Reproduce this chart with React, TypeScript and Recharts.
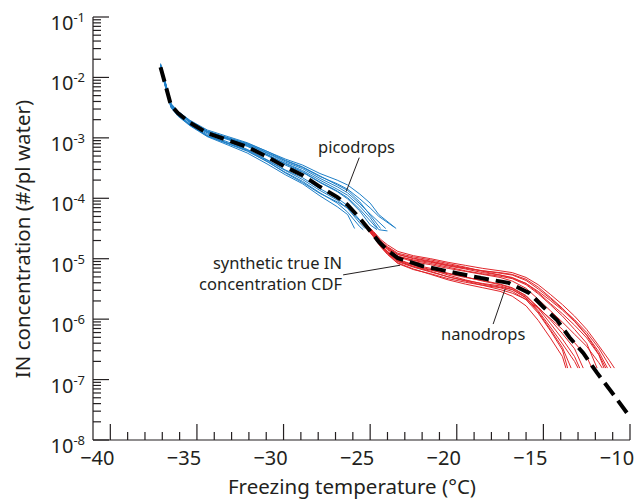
import React from "react";
import { LineChart, Line, XAxis, YAxis, ReferenceLine } from "recharts";

const cdfTemps = [-37.1, -36.5, -36.1, -35.4, -34.4, -33.2, -32.1, -30.9, -29.9, -28.9, -27.9, -26.9, -26.3, -25.6, -25.0, -24.5, -24.0, -23.4, -22.0, -20.0, -18.6, -17.0, -15.8, -15.0, -14.2, -13.5, -12.7, -11.9, -11.0, -10.0];
const cdfLogs = [-1.83, -2.46, -2.59, -2.75, -2.92, -3.04, -3.15, -3.32, -3.48, -3.62, -3.81, -3.98, -4.11, -4.33, -4.54, -4.72, -4.86, -4.99, -5.12, -5.24, -5.32, -5.4, -5.57, -5.8, -6.02, -6.3, -6.56, -6.89, -7.23, -7.62];

const picoTemps = [-37.1, -36.5, -36.1, -35.4, -34.4, -33.2, -32.1, -30.9, -29.9, -28.9, -27.9, -26.9, -26.3, -25.6, -25.0, -24.5];
const picoRuns = [
  [-1.78, -2.43, -2.56, -2.72, -2.89, -3.01, -3.12, -3.28, -3.43, -3.56, -3.73, -3.88, -3.99, -4.18],
  [-1.85, -2.49, -2.63, -2.79, -2.97, -3.1, -3.22, -3.4, -3.57, -3.72, -3.91, -4.08, -4.23, -4.47],
  [-1.8, -2.44, -2.57, -2.73, -2.89, -3.0, -3.1, -3.25, -3.38, -3.49, -3.64, -3.76, -3.85, -4.01, -4.16, -4.3],
  [-1.83, -2.47, -2.61, -2.77, -2.94, -3.07, -3.19, -3.37, -3.53, -3.66, -3.84, -4.0, -4.12, -4.36],
  [-1.77, -2.44, -2.57, -2.73, -2.9, -3.02, -3.11, -3.26, -3.4, -3.51, -3.67, -3.81, -3.91, -4.09, -4.26],
  [-1.86, -2.5, -2.64, -2.8, -2.98, -3.12, -3.25, -3.44, -3.61, -3.76, -3.96, -4.14, -4.27],
  [-1.83, -2.46, -2.59, -2.75, -2.92, -3.03, -3.14, -3.3, -3.45, -3.57, -3.74, -3.89, -4.01, -4.21, -4.44],
  [-1.79, -2.44, -2.57, -2.73, -2.89, -3.0, -3.09, -3.23, -3.35, -3.45, -3.59, -3.7, -3.78, -3.93, -4.08, -4.27],
  [-1.84, -2.48, -2.62, -2.78, -2.96, -3.09, -3.2, -3.38, -3.54, -3.69, -3.87, -4.03, -4.17, -4.41],
  [-1.81, -2.45, -2.58, -2.74, -2.91, -3.02, -3.13, -3.29, -3.42, -3.54, -3.7, -3.85, -3.95, -4.13, -4.32, -4.52],
  [-1.8, -2.44, -2.56, -2.71, -2.87, -2.98, -3.08, -3.23, -3.37, -3.48, -3.63, -3.78, -3.87, -4.06, -4.28],
  [-1.85, -2.48, -2.62, -2.79, -2.97, -3.09, -3.21, -3.4, -3.58, -3.74, -3.92, -4.06, -4.16, -4.37],
];
const picoEnds = [[-24.6, -4.5], [-25.4, -4.52], [-23.6, -4.48], [-25.1, -4.52], [-24.1, -4.5], [-25.9, -4.5], [-24.6, -4.52], [-23.5, -4.5], [-25.3, -4.5], [-24.0, -4.54], [-24.4, -4.5], [-25.0, -4.5]];

const nanoTemps = [-25.2, -24.8, -24.4, -24.0, -23.4, -22.5, -21.5, -20.5, -19.5, -18.5, -17.5, -16.8, -16.0, -15.3, -14.6, -13.9, -13.2, -12.5, -11.8, -11.2];
const nanoRuns = [
  [-4.45, -4.57, -4.71, -4.81, -4.93, -4.99, -5.04, -5.1, -5.15, -5.2, -5.23, -5.26, -5.34, -5.47, -5.64, -5.82, -6.03, -6.26, -6.54],
  [-4.49, -4.63, -4.8, -4.93, -5.08, -5.18, -5.25, -5.33, -5.39, -5.44, -5.48, -5.54, -5.68, -5.9, -6.19, -6.51],
  [-4.47, -4.59, -4.73, -4.83, -4.96, -5.03, -5.08, -5.14, -5.2, -5.25, -5.29, -5.33, -5.43, -5.58, -5.76, -5.95, -6.17, -6.4],
  [-4.48, -4.62, -4.78, -4.9, -5.04, -5.13, -5.19, -5.25, -5.31, -5.36, -5.42, -5.48, -5.61, -5.82, -6.07, -6.33, -6.62],
  [-4.44, -4.55, -4.68, -4.77, -4.88, -4.95, -5.0, -5.06, -5.11, -5.16, -5.2, -5.23, -5.31, -5.43, -5.59, -5.76, -5.95, -6.17, -6.44, -6.68],
  [-4.5, -4.64, -4.8, -4.92, -5.07, -5.17, -5.26, -5.35, -5.42, -5.48, -5.54, -5.62, -5.78, -6.02, -6.31, -6.62],
  [-4.46, -4.58, -4.73, -4.84, -4.96, -5.02, -5.06, -5.12, -5.17, -5.23, -5.27, -5.31, -5.41, -5.56, -5.74, -5.91, -6.1, -6.31, -6.59],
  [-4.47, -4.61, -4.76, -4.88, -5.01, -5.1, -5.16, -5.24, -5.3, -5.37, -5.43, -5.49, -5.62, -5.8, -6.01, -6.24, -6.49],
  [-4.45, -4.56, -4.7, -4.8, -4.91, -4.97, -5.02, -5.08, -5.14, -5.21, -5.27, -5.32, -5.41, -5.54, -5.69, -5.85, -6.04, -6.27, -6.58],
  [-4.49, -4.62, -4.77, -4.89, -5.03, -5.13, -5.21, -5.3, -5.37, -5.44, -5.51, -5.57, -5.67, -5.82, -5.99, -6.17, -6.39, -6.62],
  [-4.46, -4.59, -4.74, -4.85, -4.97, -5.05, -5.1, -5.16, -5.21, -5.26, -5.31, -5.37, -5.49, -5.67, -5.86, -6.05, -6.25, -6.45, -6.72],
  [-4.47, -4.6, -4.76, -4.88, -5.02, -5.11, -5.18, -5.27, -5.35, -5.42, -5.47, -5.51, -5.64, -5.86, -6.13, -6.41, -6.7],
  [-4.45, -4.58, -4.72, -4.82, -4.93, -5.0, -5.05, -5.11, -5.16, -5.2, -5.24, -5.27, -5.36, -5.5, -5.66, -5.83, -6.01, -6.22, -6.48],
  [-4.48, -4.62, -4.79, -4.91, -5.05, -5.14, -5.22, -5.3, -5.36, -5.41, -5.45, -5.51, -5.65, -5.88, -6.17, -6.47],
];
const nanoEnds = [[-11.3, -6.81], [-13.6, -6.81], [-11.9, -6.81], [-12.9, -6.81], [-10.9, -6.81], [-13.7, -6.81], [-11.5, -6.81], [-12.7, -6.81], [-11.4, -6.81], [-12.2, -6.81], [-11.6, -6.81], [-13.0, -6.81], [-11.1, -6.81], [-13.4, -6.81]];

const xTicks = [-40, -39, -38, -37, -36, -35, -34, -33, -32, -31, -30, -29, -28, -27, -26, -25, -24, -23, -22, -21, -20, -19, -18, -17, -16, -15, -14, -13, -12, -11, -10];
const decades = [-8, -7, -6, -5, -4, -3, -2];
const mantissas = [1, 2, 3, 4, 5, 6, 7, 8, 9];

const INK = "#231f20";
const BLUE = "#1f80c8";
const RED = "#e1262b";

const yTicks = [...decades.flatMap((e) => mantissas.map((m) => m * Math.pow(10, e))), 0.1];

const toRows = (temps: number[], logs: number[], end?: number[]) => {
  const rows = logs.map((v, i) => ({ t: temps[i], c: Math.pow(10, v) }));
  if (end) rows.push({ t: end[0], c: Math.pow(10, end[1]) });
  return rows;
};

const cdfRows = toRows(cdfTemps, cdfLogs);

const YTick = (props: any) => {
  const { x, y, payload } = props;
  const v = payload.value;
  const e = Math.floor(Math.log10(v) + 1e-9);
  const major = Math.abs(v / Math.pow(10, e) - 1) < 1e-6;
  return (
    <g>
      <line x1={x} x2={x + (major ? 16 : 8)} y1={y} y2={y} stroke={INK} strokeWidth={1.2} />
      {major && (
        <text x={x - 8} y={y + 13} textAnchor="end" fontSize={20} fill={INK}>
          10
          <tspan dy={-8} fontSize={13}>
            {e}
          </tspan>
        </text>
      )}
    </g>
  );
};

const XTick = (props: any) => {
  const { x, y, payload } = props;
  const v = payload.value;
  const major = v % 5 === 0;
  return (
    <g>
      <line x1={x} x2={x} y1={y} y2={y - (major ? 16 : 8)} stroke={INK} strokeWidth={1.2} />
      {major && (
        <text x={x - 13} y={y + 25} textAnchor="middle" fontSize={20} fill={INK}>
          {"\u2212" + Math.abs(v)}
        </text>
      )}
    </g>
  );
};

export default function App() {
  return (
    <div
      style={{
        position: "absolute",
        left: 0,
        top: 0,
        width: 638,
        height: 499,
        background: "#fff",
        fontFamily: "'Noto Sans', sans-serif",
      }}
    >
      <LineChart width={638} height={499} margin={{ top: 17, right: 8, bottom: 19, left: 33 }}>
        <XAxis
          dataKey="t"
          type="number"
          domain={[-41, -10]}
          ticks={xTicks}
          interval={0}
          tick={<XTick />}
          tickSize={0}
          tickMargin={0}
          tickLine={false}
          height={40}
          axisLine={{ stroke: INK, strokeWidth: 1.2 }}
        />
        <YAxis
          type="number"
          scale="log"
          domain={[1e-8, 1e-1]}
          allowDataOverflow
          ticks={yTicks}
          interval={0}
          tick={<YTick />}
          tickSize={0}
          tickMargin={0}
          tickLine={false}
          width={60}
          axisLine={{ stroke: INK, strokeWidth: 1.2 }}
        />
        {picoRuns.map((run, i) => (
          <Line
            key={"p" + i}
            data={toRows(picoTemps, run, picoEnds[i])}
            dataKey="c"
            stroke={BLUE}
            strokeWidth={1}
            dot={false}
            isAnimationActive={false}
          />
        ))}
        {nanoRuns.map((run, i) => (
          <Line
            key={"n" + i}
            data={toRows(nanoTemps, run, nanoEnds[i])}
            dataKey="c"
            stroke={RED}
            strokeWidth={1}
            dot={false}
            isAnimationActive={false}
          />
        ))}
        <Line
          data={cdfRows}
          dataKey="c"
          stroke="#000"
          strokeWidth={4}
          strokeDasharray="15 7"
          dot={false}
          isAnimationActive={false}
        />
        <ReferenceLine segment={[{ x: -25.63, y: 4.7e-4 }, { x: -26.38, y: 1.3e-4 }]} stroke={INK} strokeWidth={1} />
        <ReferenceLine segment={[{ x: -26.56, y: 5.4e-6 }, { x: -23.27, y: 7.8e-6 }]} stroke={INK} strokeWidth={1} />
        <ReferenceLine segment={[{ x: -17.9, y: 8.3e-7 }, { x: -17.2, y: 3.2e-6 }]} stroke={INK} strokeWidth={1} />
      </LineChart>
      <svg
        width={638}
        height={499}
        style={{ position: "absolute", left: 0, top: 0, pointerEvents: "none" }}
      >
        <g fill={INK} fontSize={16.5}>
          <text x={318} y={153}>picodrops</text>
          <text x={342} y={269} textAnchor="end">synthetic true IN</text>
          <text x={342} y={290} textAnchor="end">concentration CDF</text>
          <text x={441} y={340}>nanodrops</text>
        </g>
        <text x={352} y={494} textAnchor="middle" fontSize={20.5} fill={INK}>
          Freezing temperature (°C)
        </text>
        <text
          x={30}
          y={239}
          textAnchor="middle"
          fontSize={20.5}
          fill={INK}
          transform="rotate(-90 30 239)"
        >
          IN concentration (#/pl water)
        </text>
      </svg>
    </div>
  );
}
